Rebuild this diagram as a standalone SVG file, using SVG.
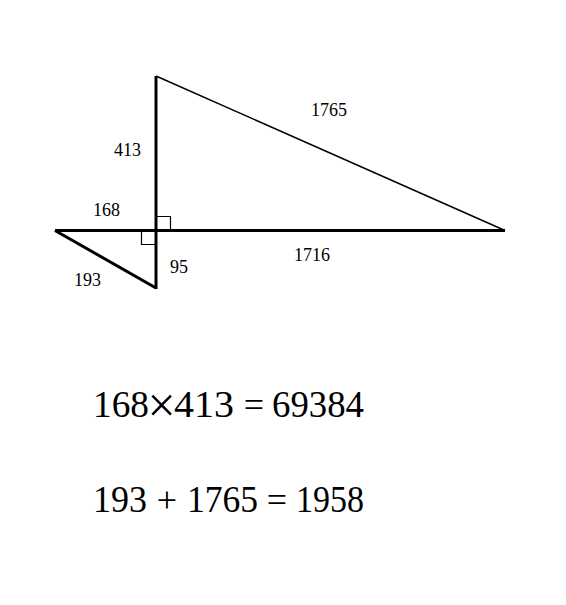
<svg xmlns="http://www.w3.org/2000/svg" width="566" height="605" viewBox="0 0 566 605">
<style>
.thick{stroke:#000;stroke-width:3;fill:none;stroke-linecap:butt}
.thin{stroke:#000;stroke-width:1.5;fill:none}
.mark{stroke:#000;stroke-width:1.2;fill:none}
.lbl{font-family:"Liberation Serif",serif;font-size:18px;fill:#000}
.eq{font-family:"Liberation Serif",serif;font-size:38px;fill:#000}
.op{font-family:"Liberation Serif",serif;font-size:36px;fill:#000;text-anchor:middle}
</style>
<rect width="566" height="605" fill="#fff"/>
<g id="figure">
<line class="thick" x1="156" y1="76" x2="156" y2="289"/>
<line class="thick" x1="55" y1="230.5" x2="505" y2="230.5"/>
<line class="thin" x1="156" y1="76" x2="505" y2="230.5"/>
<line class="thick" x1="55" y1="230.5" x2="156" y2="288"/>
<polyline class="mark" points="157,216.5 170.5,216.5 170.5,230"/>
<polyline class="mark" points="141.5,231 141.5,244.5 155,244.5"/>
</g>
<g id="labels">
<text class="lbl" x="114" y="156">413</text>
<text class="lbl" x="93" y="216">168</text>
<text class="lbl" x="170" y="273">95</text>
<text class="lbl" x="74" y="286">193</text>
<text class="lbl" x="311" y="116">1765</text>
<text class="lbl" x="294" y="261">1716</text>
</g>
<g id="equation1">
<text class="eq" x="93" y="417" textLength="56" lengthAdjust="spacingAndGlyphs">168</text>
<text class="op" x="161.5" y="422" style="font-size:50px">×</text>
<text class="eq" x="174" y="417" textLength="60" lengthAdjust="spacingAndGlyphs">413</text>
<text class="op" x="254" y="417">=</text>
<text class="eq" x="272" y="417" textLength="92" lengthAdjust="spacingAndGlyphs">69384</text>
</g>
<g id="equation2">
<text class="eq" x="93" y="512" textLength="54" lengthAdjust="spacingAndGlyphs">193</text>
<text class="op" x="167" y="512">+</text>
<text class="eq" x="187" y="512" textLength="71" lengthAdjust="spacingAndGlyphs">1765</text>
<text class="op" x="277" y="512">=</text>
<text class="eq" x="296" y="512" textLength="68" lengthAdjust="spacingAndGlyphs">1958</text>
</g>
</svg>
